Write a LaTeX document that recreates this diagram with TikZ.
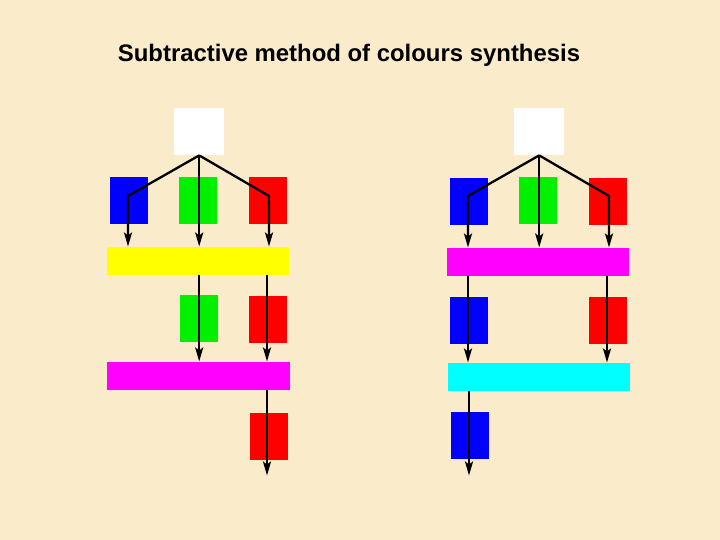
\documentclass[tikz,border=0pt]{standalone}
\usepackage{fontspec}
\setmainfont{Liberation Sans}
\usetikzlibrary{arrows.meta}
\definecolor{paper}{RGB}{250,235,203}
\definecolor{pblue}{RGB}{0,0,255}
\definecolor{pgreen}{RGB}{0,240,0}
\definecolor{pred}{RGB}{255,0,0}
\definecolor{pyellow}{RGB}{255,255,0}
\definecolor{pmagenta}{RGB}{255,0,255}
\definecolor{pcyan}{RGB}{0,255,255}
\tikzset{
  box/.style={draw=none, inner sep=0pt, anchor=north west, minimum width=38pt, minimum height=47pt},
  wbox/.style={box, fill=white, minimum width=50pt, minimum height=47pt},
  bar/.style={draw=none, inner sep=0pt, anchor=north west, minimum width=182pt, minimum height=28pt},
  arr/.style={line width=2.3pt, -{Stealth[length=14pt,width=8pt,inset=3pt]}, shorten >=0.5pt}
}
\begin{document}
\begin{tikzpicture}[x=1pt,y=-1pt]
\useasboundingbox (0,0) rectangle (720,540);
\fill[paper] (0,0) rectangle (720,540);
\node[anchor=base, font=\bfseries\fontsize{23.9}{28}\selectfont] (title) at (349,62) {Subtractive method of colours synthesis};

% ---------- left panel ----------
\node[wbox] (w1) at (174,108) {};
\node[box, fill=pblue] (l1b) at (110,177) {};
\node[box, fill=pgreen] (l1g) at (179,177) {};
\node[box, fill=pred] (l1r) at (249,177) {};
\node[bar, fill=pyellow] (ly) at (107,247) {};
\node[box, fill=pgreen] (l2g) at (180,295) {};
\node[box, fill=pred] (l2r) at (249,296) {};
\node[bar, fill=pmagenta, minimum width=183pt] (lm) at (107,362) {};
\node[box, fill=pred] (l3r) at (250,413) {};
\coordinate (lk1) at (128,196);
\coordinate (lk3) at (269,196);
\coordinate (lend) at (267,476);

\draw[arr] (w1.south) -- (lk1) -- (lk1 |- ly.north);
\draw[arr] (w1.south) -- (w1.south |- ly.north);
\draw[arr] (w1.south) -- (lk3) -- (lk3 |- ly.north);
\draw[arr] (w1.south |- ly.south) -- (w1.south |- lm.north);
\draw[arr] (lend |- ly.south) -- (lend |- lm.north);
\draw[arr] (lend |- lm.south) -- (lend);

% ---------- right panel ----------
\node[wbox] (w2) at (514,108) {};
\node[box, fill=pblue] (r1b) at (450,178) {};
\node[box, fill=pgreen] (r1g) at (519,177) {};
\node[box, fill=pred] (r1r) at (589,178) {};
\node[bar, fill=pmagenta] (rm) at (447,248) {};
\node[box, fill=pblue] (r2b) at (450,297) {};
\node[box, fill=pred] (r2r) at (589,297) {};
\node[bar, fill=pcyan] (rc) at (448,363) {};
\node[box, fill=pblue] (r3b) at (451,412) {};
\coordinate (rk1) at (468,196);
\coordinate (rk3) at (609,196);
\coordinate (rx) at (607,300);
\coordinate (rend) at (469,476);

\draw[arr] (w2.south) -- (rk1) -- (rk1 |- rm.north);
\draw[arr] (w2.south) -- (w2.south |- rm.north);
\draw[arr] (w2.south) -- (rk3) -- (rk3 |- rm.north);
\draw[arr] (rk1 |- rm.south) -- (rk1 |- rc.north);
\draw[arr] (rx |- rm.south) -- (rx |- rc.north);
\draw[arr] (rend |- rc.south) -- (rend);
\end{tikzpicture}
\end{document}
